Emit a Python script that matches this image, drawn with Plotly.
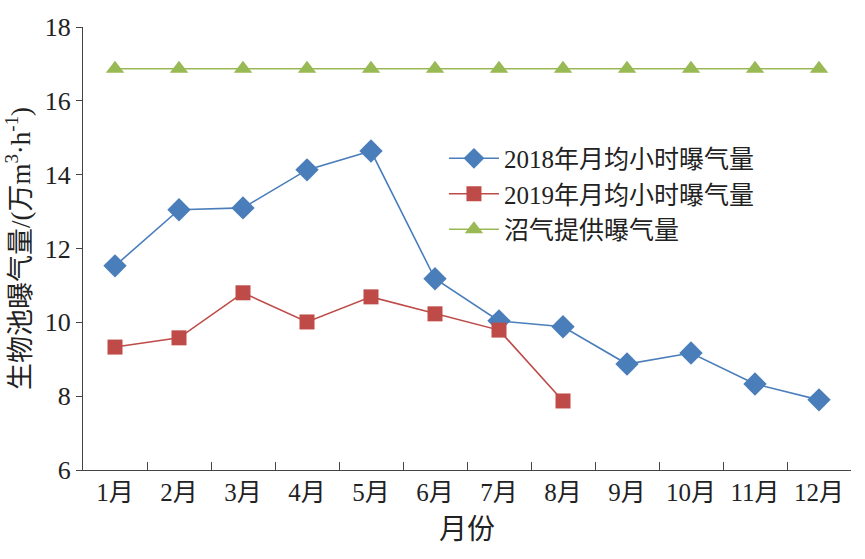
import plotly.graph_objects as go

months = ["1月", "2月", "3月", "4月", "5月", "6月", "7月", "8月", "9月", "10月", "11月", "12月"]
aer_2018 = [11.53, 13.05, 13.1, 14.13, 14.64, 11.18, 10.04, 9.88, 8.87, 9.17, 8.33, 7.9]
aer_2019 = [9.33, 9.58, 10.8, 10.01, 10.69, 10.23, 9.79, 7.87]
biogas = [16.87] * 12

FONT = "Liberation Serif, Noto Sans CJK SC, serif"

fig = go.Figure()
fig.add_trace(go.Scatter(
    x=months, y=aer_2018, mode="lines+markers", name="2018年月均小时曝气量",
    line=dict(color="#4a7ebb", width=1.6),
    marker=dict(symbol="diamond", size=18, color="#4a7ebb"),
))
fig.add_trace(go.Scatter(
    x=months[:len(aer_2019)], y=aer_2019, mode="lines+markers", name="2019年月均小时曝气量",
    line=dict(color="#be4b48", width=1.6),
    marker=dict(symbol="square", size=15, color="#be4b48"),
))
fig.add_trace(go.Scatter(
    x=months, y=biogas, mode="lines+markers", name="沼气提供曝气量",
    line=dict(color="#98b954", width=1.6),
    marker=dict(symbol="triangle-up", size=16, color="#98b954"),
))

fig.update_layout(
    width=865, height=559,
    margin=dict(l=83, r=14, t=27, b=89),
    paper_bgcolor="white", plot_bgcolor="white",
    font=dict(family=FONT, size=22, color="#222"),
    showlegend=True,
    legend=dict(x=0.47, y=0.755, xanchor="left", yanchor="top",
                font=dict(size=25, family=FONT), bgcolor="rgba(0,0,0,0)",
                tracegroupgap=0, itemwidth=50),
)
fig.update_xaxes(
    type="category", categoryorder="array", categoryarray=months,
    range=[-0.5, 11.5],
    showline=True, linecolor="#444", linewidth=1.2,
    ticks="inside", ticklen=8, tickcolor="#444", tickson="boundaries",
    showgrid=False, zeroline=False,
    tickfont=dict(size=25, family=FONT),
    title=dict(text="月份", font=dict(size=28, family=FONT), standoff=14),
)
fig.update_yaxes(
    range=[6, 18], dtick=2, tick0=6,
    showline=True, linecolor="#444", linewidth=1.2,
    ticks="outside", ticklen=6, tickcolor="#444",
    showgrid=False, zeroline=False,
    tickfont=dict(size=26, family=FONT),
    title=dict(text="生物池曝气量/(万m<sup>3</sup>·h<sup>-1</sup>)", font=dict(size=27, family=FONT), standoff=6),
)

fig.write_html("out.html")
